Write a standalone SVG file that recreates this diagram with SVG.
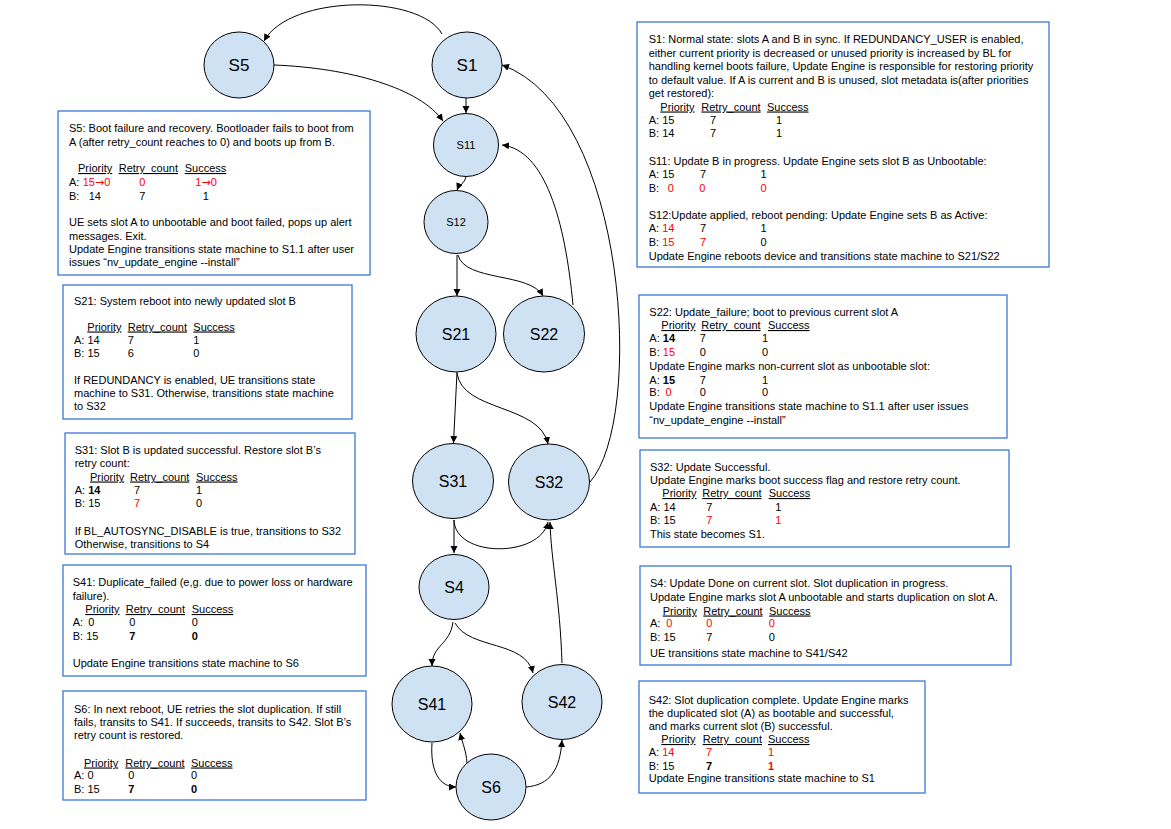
<svg xmlns="http://www.w3.org/2000/svg" width="1171" height="829" viewBox="0 0 1171 829">
<style>
.t{font-family:"Liberation Sans",Arial,sans-serif;font-size:11px;fill:#000}
.u{text-decoration:underline}
.r{fill:#ff0000}
.b{font-weight:bold}
.ar{font-family:"DejaVu Sans",sans-serif}
.box{fill:#fff;stroke:#3c78d8;stroke-width:1.3}
.node ellipse{fill:#cfe2f3;stroke:#000;stroke-width:1}
.nl{font-family:"Liberation Sans",Arial,sans-serif;text-anchor:middle;dominant-baseline:central;fill:#000}
.conn path{fill:none;stroke:#000;stroke-width:1;marker-end:url(#ah)}
</style>
<defs>
<marker id="ah" markerUnits="userSpaceOnUse" markerWidth="8" markerHeight="8" refX="7" refY="3.5" orient="auto">
<path d="M0,0 L7,3.5 L0,7 z" fill="#000"/>
</marker>
</defs>
<rect width="1171" height="829" fill="#fff"/>

<g id="connectors" class="conn">
<path d="M442,34 C420,-6 290,-6 264,41"/>
<path d="M274,65 C350,68 420,88 443,121"/>
<path d="M466,98 L466,113"/>
<path d="M466,177 C465,183 459,185 457,190"/>
<path d="M457,255 L457,296"/>
<path d="M458,255 C465,282 530,272 543,296"/>
<path d="M573,305 C565,220 545,150 502,145"/>
<path d="M590,482 C645,420 628,110 502,65"/>
<path d="M457,372 L453.5,443"/>
<path d="M457,373 C462,412 540,404 548,444"/>
<path d="M454,520 L454,553"/>
<path d="M454,520 C455,558 540,558 548,522"/>
<path d="M562,663 C560,600 551,560 550,522"/>
<path d="M453,622 C450,645 432,645 432,666"/>
<path d="M455,623 C470,650 525,640 533,673"/>
<path d="M432,743 C430,772 440,787 456,787"/>
<path d="M467,763 C466,750 463,745 460,733"/>
<path d="M526,787 C550,785 560,770 562,740"/>
</g>

<g id="S5" class="node"><ellipse cx="239" cy="65" rx="35" ry="33"/><text class="nl" x="239" y="65" font-size="17">S5</text></g>
<g id="S1" class="node"><ellipse cx="467" cy="65" rx="35" ry="33"/><text class="nl" x="467" y="65" font-size="17">S1</text></g>
<g id="S11" class="node"><ellipse cx="466" cy="145" rx="32.5" ry="31.5"/><text class="nl" x="466" y="145" font-size="11">S11</text></g>
<g id="S12" class="node"><ellipse cx="456" cy="222" rx="32" ry="31.5"/><text class="nl" x="456" y="222" font-size="11">S12</text></g>
<g id="S21" class="node"><ellipse cx="456" cy="334" rx="40" ry="38"/><text class="nl" x="456" y="334" font-size="16">S21</text></g>
<g id="S22" class="node"><ellipse cx="544" cy="334" rx="40.5" ry="38"/><text class="nl" x="544" y="334" font-size="16">S22</text></g>
<g id="S31" class="node"><ellipse cx="453" cy="481" rx="40.5" ry="37.5"/><text class="nl" x="453" y="481" font-size="16">S31</text></g>
<g id="S32" class="node"><ellipse cx="549" cy="482" rx="40.5" ry="38"/><text class="nl" x="549" y="482" font-size="16">S32</text></g>
<g id="S4" class="node"><ellipse cx="454" cy="587" rx="35" ry="32.5"/><text class="nl" x="454" y="587" font-size="16">S4</text></g>
<g id="S41" class="node"><ellipse cx="432" cy="704" rx="40" ry="38"/><text class="nl" x="432" y="704" font-size="16">S41</text></g>
<g id="S42" class="node"><ellipse cx="562" cy="702" rx="40" ry="37.5"/><text class="nl" x="562" y="702" font-size="16">S42</text></g>
<g id="S6" class="node"><ellipse cx="491" cy="787" rx="35" ry="33"/><text class="nl" x="491" y="787" font-size="16">S6</text></g>

<g id="box-S5">
<rect class="box" x="58" y="111" width="312" height="164"/>
<text class="t" x="69" y="132">S5: Boot failure and recovery. Bootloader fails to boot from</text>
<text class="t" x="69" y="145.5">A (after retry_count reaches to 0) and boots up from B.</text>
<text class="t u" x="78" y="172">Priority</text><text class="t u" x="118.7" y="172">Retry_count</text><text class="t u" x="184.7" y="172">Success</text>
<text class="t" y="185.5"><tspan x="69">A:</tspan><tspan x="82.7" class="r">15<tspan class="ar">→</tspan>0</tspan><tspan x="139.3" class="r">0</tspan><tspan x="195.3" class="r">1<tspan class="ar">→</tspan>0</tspan></text>
<text class="t" y="199.5"><tspan x="69">B:</tspan><tspan x="88.7">14</tspan><tspan x="139.3">7</tspan><tspan x="202.7">1</tspan></text>
<text class="t" x="69" y="226">UE sets slot A to unbootable and boot failed, pops up alert</text>
<text class="t" x="69" y="239.5">messages. Exit.</text>
<text class="t" x="69" y="253">Update Engine transitions state machine to S1.1 after user</text>
<text class="t" x="69" y="266">issues “nv_update_engine --install”</text>
</g>

<g id="box-S21">
<rect class="box" x="63" y="285" width="289" height="134"/>
<text class="t" x="74" y="304.5">S21: System reboot into newly updated slot B</text>
<text class="t u" x="87.3" y="330.5">Priority</text><text class="t u" x="127.7" y="330.5">Retry_count</text><text class="t u" x="193.3" y="330.5">Success</text>
<text class="t" y="343.5"><tspan x="74">A: 14</tspan><tspan x="127.7">7</tspan><tspan x="193.3">1</tspan></text>
<text class="t" y="357"><tspan x="74">B: 15</tspan><tspan x="127.7">6</tspan><tspan x="193.3">0</tspan></text>
<text class="t" x="74" y="383.5">If REDUNDANCY is enabled, UE transitions state</text>
<text class="t" x="74" y="397">machine to S31. Otherwise, transitions state machine</text>
<text class="t" x="74" y="410">to S32</text>
</g>

<g id="box-S31">
<rect class="box" x="65" y="433" width="290" height="121"/>
<text class="t" x="74.7" y="454">S31: Slot B is updated successful. Restore slot B’s</text>
<text class="t" x="74.7" y="467">retry count:</text>
<text class="t u" x="90" y="480.5">Priority</text><text class="t u" x="130" y="480.5">Retry_count</text><text class="t u" x="196" y="480.5">Success</text>
<text class="t" y="494"><tspan x="74.7">A: </tspan><tspan x="88.2" class="b">14</tspan><tspan x="134">7</tspan><tspan x="196">1</tspan></text>
<text class="t" y="507"><tspan x="74.7">B: 15</tspan><tspan x="134" class="r">7</tspan><tspan x="196">0</tspan></text>
<text class="t" x="74.7" y="534.5">If BL_AUTOSYNC_DISABLE is true, transitions to S32</text>
<text class="t" x="74.7" y="548">Otherwise, transitions to S4</text>
</g>

<g id="box-S41">
<rect class="box" x="63" y="565" width="303" height="111"/>
<text class="t" x="72.7" y="586">S41: Duplicate_failed (e,g. due to power loss or hardware</text>
<text class="t" x="72.7" y="599.5">failure).</text>
<text class="t u" x="85.3" y="613">Priority</text><text class="t u" x="125.7" y="613">Retry_count</text><text class="t u" x="191.7" y="613">Success</text>
<text class="t" y="626"><tspan x="72.7">A:</tspan><tspan x="88.3">0</tspan><tspan x="129.3">0</tspan><tspan x="191.7">0</tspan></text>
<text class="t" y="639.5"><tspan x="72.7">B: 15</tspan><tspan x="129.3" class="b">7</tspan><tspan x="191.7" class="b">0</tspan></text>
<text class="t" x="72.7" y="667">Update Engine transitions state machine to S6</text>
</g>

<g id="box-S6">
<rect class="box" x="63" y="691" width="303" height="109"/>
<text class="t" x="74" y="712.5">S6: In next reboot, UE retries the slot duplication. If still</text>
<text class="t" x="74" y="726">fails, transits to S41. If succeeds, transits to S42. Slot B’s</text>
<text class="t" x="74" y="739">retry count is restored.</text>
<text class="t u" x="84" y="766.5">Priority</text><text class="t u" x="125.3" y="766.5">Retry_count</text><text class="t u" x="191" y="766.5">Success</text>
<text class="t" y="779"><tspan x="74">A: 0</tspan><tspan x="128.3">0</tspan><tspan x="191">0</tspan></text>
<text class="t" y="792.5"><tspan x="74">B: 15</tspan><tspan x="128.3" class="b">7</tspan><tspan x="191" class="b">0</tspan></text>
</g>

<g id="box-S1">
<rect class="box" x="637" y="22" width="412" height="245"/>
<text class="t" x="648.7" y="43">S1: Normal state: slots A and B in sync. If REDUNDANCY_USER is enabled,</text>
<text class="t" x="648.7" y="56.5">either current priority is decreased or unused priority is increased by BL for</text>
<text class="t" x="648.7" y="70">handling kernel boots failure, Update Engine is responsible for restoring priority</text>
<text class="t" x="648.7" y="83.5">to default value. If A is current and B is unused, slot metadata is(after priorities</text>
<text class="t" x="648.7" y="97">get restored):</text>
<text class="t u" x="660.3" y="110.5">Priority</text><text class="t u" x="701.3" y="110.5">Retry_count</text><text class="t u" x="767" y="110.5">Success</text>
<text class="t" y="124"><tspan x="648.7">A: 15</tspan><tspan x="710">7</tspan><tspan x="776">1</tspan></text>
<text class="t" y="137.3"><tspan x="648.7">B: 14</tspan><tspan x="710">7</tspan><tspan x="776">1</tspan></text>
<text class="t" x="648.7" y="165">S11: Update B in progress. Update Engine sets slot B as Unbootable:</text>
<text class="t" y="178"><tspan x="648.7">A: 15</tspan><tspan x="700">7</tspan><tspan x="760.5">1</tspan></text>
<text class="t" y="191.5"><tspan x="648.7">B:</tspan><tspan x="667.7" class="r">0</tspan><tspan x="699.3" class="r">0</tspan><tspan x="760.5" class="r">0</tspan></text>
<text class="t" x="648.7" y="219">S12:Update applied, reboot pending: Update Engine sets B as Active:</text>
<text class="t" y="232.3"><tspan x="648.7">A: </tspan><tspan x="662.2" class="r">14</tspan><tspan x="700">7</tspan><tspan x="760.5">1</tspan></text>
<text class="t" y="245.5"><tspan x="648.7">B: </tspan><tspan x="662.2" class="r">15</tspan><tspan x="700" class="r">7</tspan><tspan x="760.5">0</tspan></text>
<text class="t" x="648.7" y="259.5">Update Engine reboots device and transitions state machine to S21/S22</text>
</g>

<g id="box-S22">
<rect class="box" x="639" y="295" width="368" height="143"/>
<text class="t" x="649.3" y="315.5">S22: Update_failure; boot to previous current slot A</text>
<text class="t u" x="661.3" y="329">Priority</text><text class="t u" x="701.3" y="329">Retry_count</text><text class="t u" x="768" y="329">Success</text>
<text class="t" y="342"><tspan x="649.3">A: </tspan><tspan x="662.8" class="b">14</tspan><tspan x="699.7">7</tspan><tspan x="762">1</tspan></text>
<text class="t" y="356"><tspan x="649.3">B: </tspan><tspan x="662.8" class="r">15</tspan><tspan x="699.7">0</tspan><tspan x="762">0</tspan></text>
<text class="t" x="649.3" y="369.5">Update Engine marks non-current slot as unbootable slot:</text>
<text class="t" y="383.5"><tspan x="649.3">A: </tspan><tspan x="662.8" class="b">15</tspan><tspan x="699.7">7</tspan><tspan x="762">1</tspan></text>
<text class="t" y="396"><tspan x="649.3">B:</tspan><tspan x="665.5" class="r">0</tspan><tspan x="699.7">0</tspan><tspan x="762">0</tspan></text>
<text class="t" x="649.3" y="410">Update Engine transitions state machine to S1.1 after user issues</text>
<text class="t" x="649.3" y="423.5">“nv_update_engine --install”</text>
</g>

<g id="box-S32">
<rect class="box" x="640" y="450" width="369" height="97"/>
<text class="t" x="650" y="470.5">S32: Update Successful.</text>
<text class="t" x="650" y="484">Update Engine marks boot success flag and restore retry count.</text>
<text class="t u" x="662.3" y="497">Priority</text><text class="t u" x="702.3" y="497">Retry_count</text><text class="t u" x="768.7" y="497">Success</text>
<text class="t" y="510.5"><tspan x="650">A: 14</tspan><tspan x="706.3">7</tspan><tspan x="775.3">1</tspan></text>
<text class="t" y="524"><tspan x="650">B: 15</tspan><tspan x="706.3" class="r">7</tspan><tspan x="775.3" class="r">1</tspan></text>
<text class="t" x="650" y="538">This state becomes S1.</text>
</g>

<g id="box-S4">
<rect class="box" x="640" y="566" width="371" height="99"/>
<text class="t" x="650" y="587">S4: Update Done on current slot. Slot duplication in progress.</text>
<text class="t" x="650" y="600.5">Update Engine marks slot A unbootable and starts duplication on slot A.</text>
<text class="t u" x="662.7" y="614.5">Priority</text><text class="t u" x="703.3" y="614.5">Retry_count</text><text class="t u" x="769" y="614.5">Success</text>
<text class="t" y="627"><tspan x="650">A:</tspan><tspan x="666.3" class="r">0</tspan><tspan x="706.3" class="r">0</tspan><tspan x="768.7" class="r">0</tspan></text>
<text class="t" y="641"><tspan x="650">B: 15</tspan><tspan x="706.3">7</tspan><tspan x="768.7">0</tspan></text>
<text class="t" x="650" y="656.5">UE transitions state machine to S41/S42</text>
</g>

<g id="box-S42">
<rect class="box" x="639" y="681" width="286" height="112"/>
<text class="t" x="648.7" y="703.5">S42: Slot duplication complete. Update Engine marks</text>
<text class="t" x="648.7" y="717">the duplicated slot (A) as bootable and successful,</text>
<text class="t" x="648.7" y="730">and marks current slot (B) successful.</text>
<text class="t u" x="661.3" y="743">Priority</text><text class="t u" x="702.7" y="743">Retry_count</text><text class="t u" x="768" y="743">Success</text>
<text class="t" y="756"><tspan x="648.7">A: </tspan><tspan x="662.2" class="r">14</tspan><tspan x="706" class="r">7</tspan><tspan x="768" class="r">1</tspan></text>
<text class="t" y="769.5"><tspan x="648.7">B: 15</tspan><tspan x="706" class="b">7</tspan><tspan x="768" class="b r">1</tspan></text>
<text class="t" x="648.7" y="782">Update Engine transitions state machine to S1</text>
</g>
</svg>
